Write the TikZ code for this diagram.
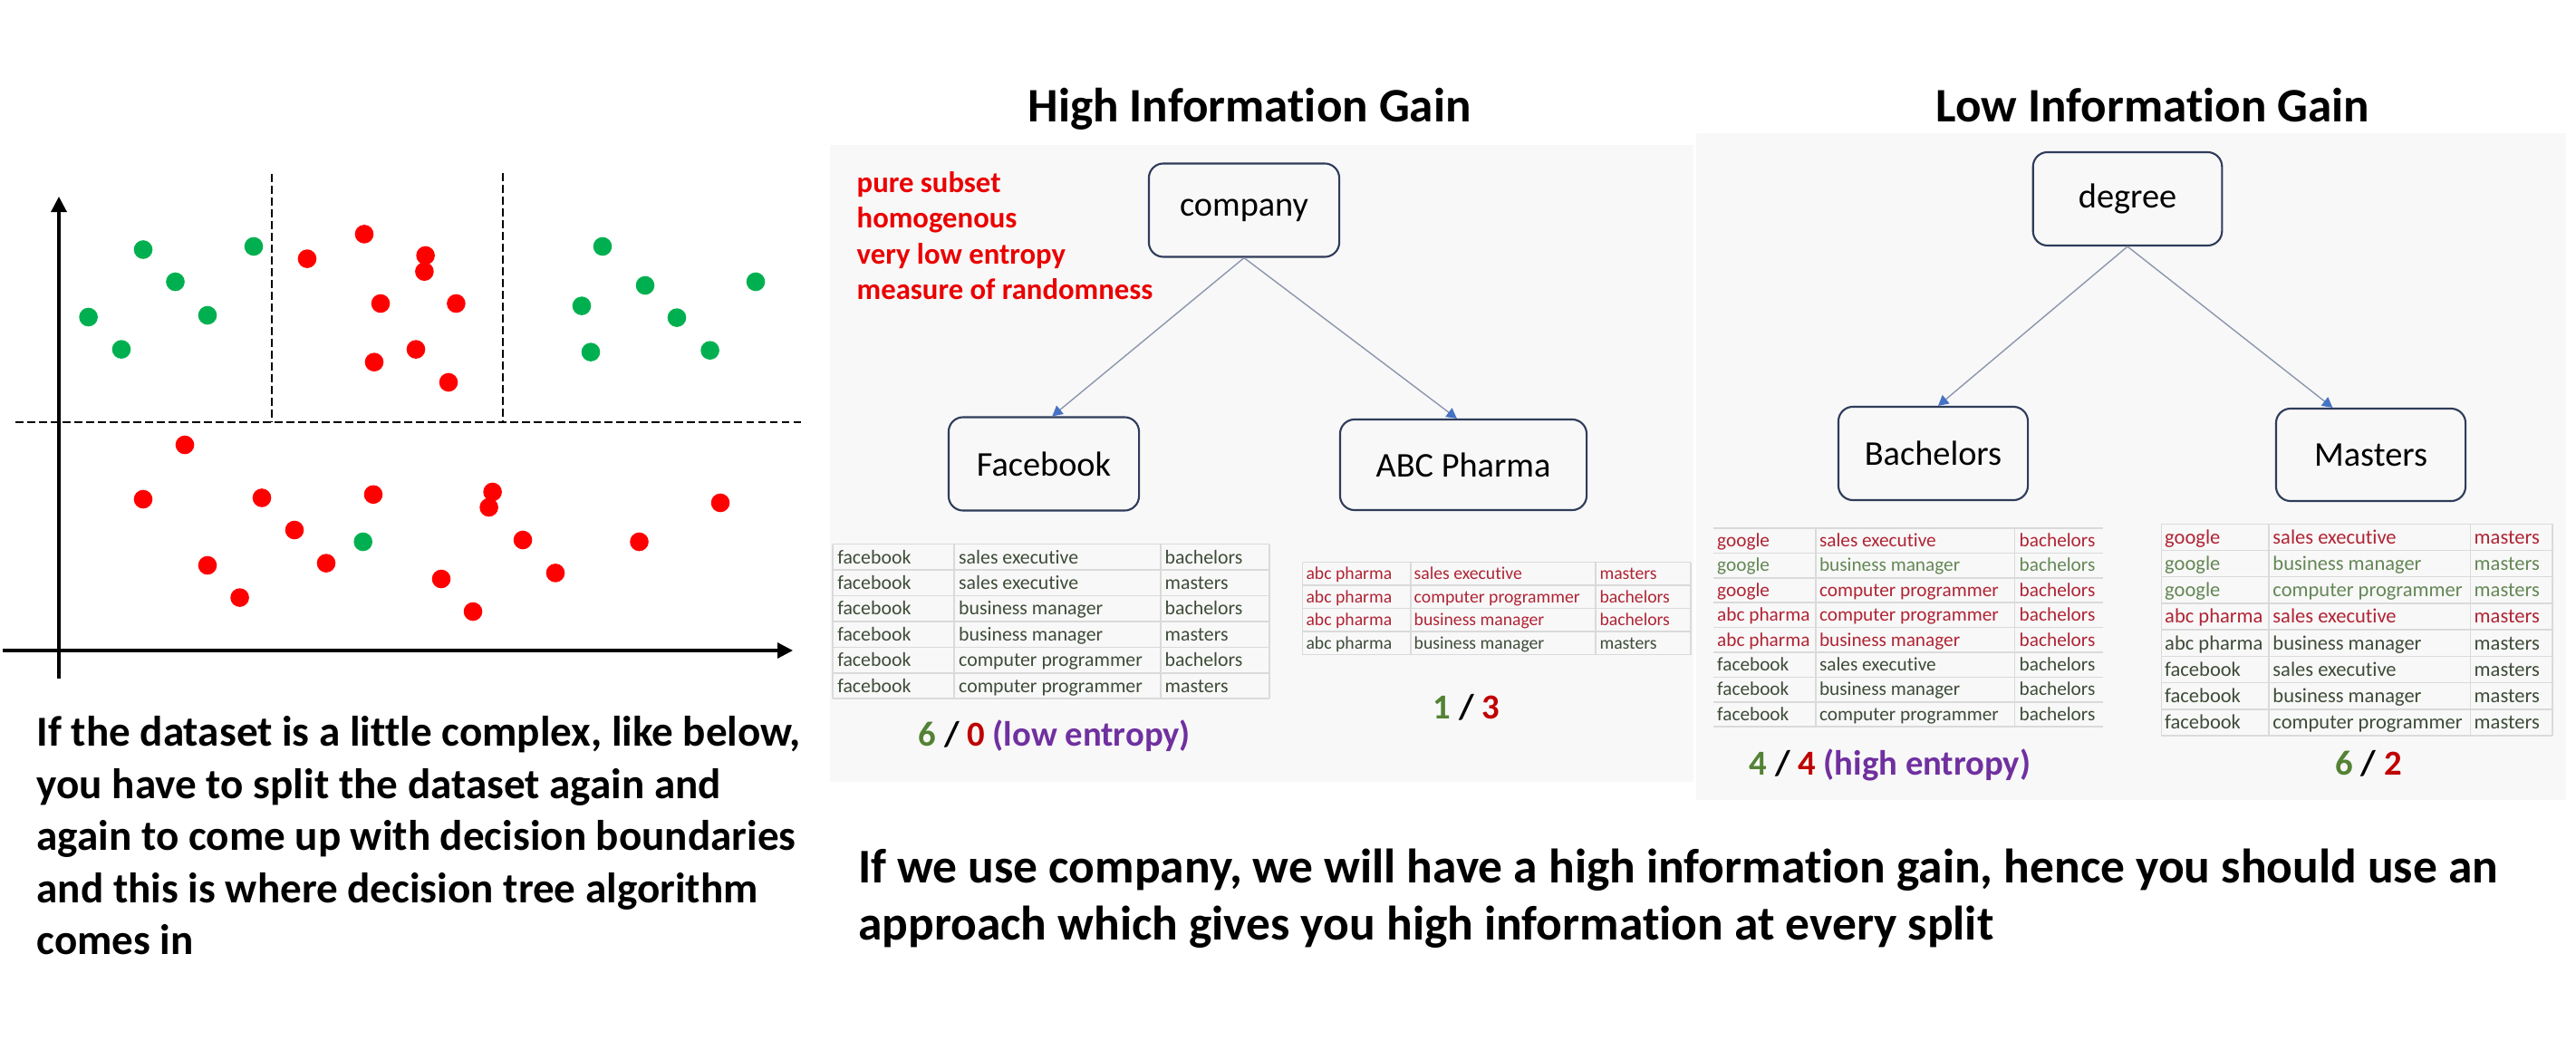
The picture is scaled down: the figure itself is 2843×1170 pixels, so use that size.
\documentclass[tikz,border=0pt]{standalone}
\usepackage{fontspec}
\setmainfont{Carlito}[Ligatures=NoCommon]
\usetikzlibrary{arrows.meta}

\definecolor{dotgreen}{RGB}{0,176,80}
\definecolor{dotred}{RGB}{255,0,0}
\definecolor{notered}{RGB}{235,0,0}
\definecolor{panel}{RGB}{248,248,248}
\definecolor{boxline}{RGB}{47,60,90}
\definecolor{edgeline}{RGB}{140,150,175}
\definecolor{tipblue}{RGB}{68,114,196}
\definecolor{gridline}{RGB}{218,218,218}
\definecolor{cellred}{RGB}{176,36,52}
\definecolor{cellgreen}{RGB}{100,135,85}
\definecolor{celldark}{RGB}{62,76,56}
\definecolor{cntgreen}{RGB}{84,130,53}
\definecolor{cntred}{RGB}{192,0,0}
\definecolor{cntpurple}{RGB}{112,48,160}

\begin{document}
\begin{tikzpicture}[x=0.01cm, y=-0.01cm,
    treebox/.style={draw=boxline, line width=0.6pt, rounded corners=0.16cm, minimum width=2.1cm, minimum height=1.03cm, font=\fontsize{10.9}{13}\selectfont},
    split/.style={draw=edgeline, line width=0.4pt, -{Triangle[length=3.2pt,width=3.4pt,color=tipblue]}},
    axis/.style={line width=0.9pt, -{Triangle[length=0.17cm,width=0.17cm]}},
    boundary/.style={line width=0.7pt, dash pattern=on 0.085cm off 0.045cm},
    grid/.style={draw=gridline, line width=0.45pt},
    cell/.style={anchor=base west, inner sep=0pt},
    count/.style={anchor=base west, inner sep=0pt, font=\bfseries\fontsize{11}{13}\selectfont},
    title/.style={anchor=base, inner sep=0pt, font=\bfseries\fontsize{15.1}{18}\selectfont}]

  \useasboundingbox (0,0) rectangle (2843,1170);
  \fill[white] (0,0) rectangle (2843,1170);

  % scatter plot with split lines
  \draw[axis] (65,749) -- (65,217);
  \draw[axis] (3,718) -- (875,718);
  \draw[boundary] (17,466) -- (887,466);
  \draw[boundary] (300,192) -- (300,466);
  \draw[boundary] (555,191) -- (555,466);
  \foreach \px/\py in {158/275.5, 280/272, 193.5/311, 97.6/350, 229/348, 134/385.6,
      665/272, 712/315, 834/311, 642/337.6, 747/350.6, 652/388.6, 783.6/386.7, 400.7/598}
    \fill[dotgreen] (\px,\py) circle[radius=0.103cm];
  \foreach \px/\py in {402/258.4, 339/285.6, 469.6/282, 468.4/299.7, 420/335, 503.4/335,
      459/385.6, 413/399.7, 495/422, 204/491, 158/551, 289/549.5, 412/545.8, 543.6/543,
      539.6/560, 795/555, 325/585, 577/596, 705.5/598, 229/624, 360/621.6, 613/632.4,
      487/639, 264.6/659.6, 522/675}
    \fill[dotred] (\px,\py) circle[radius=0.103cm];

  % panels
  \fill[panel] (916,160) rectangle (1869,863);
  \fill[panel] (1872,147) rectangle (2832,883);

  % high information gain
  \node[title] (hightitle) at (1379,135) {High Information Gain};
  \node[anchor=north west, align=left, inner sep=0pt, text=notered,
    font=\bfseries\fontsize{9.3}{11.15}\selectfont] (notes) at (945,189)
    {pure subset\\homogenous\\very low entropy\\measure of randomness};
  \node[treebox] (company) at (1373,232) {company};
  \node[treebox] (facebook) at (1152,512) {Facebook};
  \node[treebox, minimum width=2.72cm, minimum height=1cm] (abc) at (1615,513) {ABC Pharma};
  \path (company.south) edge[split] (facebook.80)
        (company.south) edge[split] (abc.98);

  % facebook table
  \foreach \i in {0,...,6} \draw[grid] (919,{600.7+28.4*\i}) -- (1401,{600.7+28.4*\i});
  \foreach \gx in {919,1053,1281,1401} \draw[grid] (\gx,600.7) -- (\gx,771.1);
  \foreach \r/\rc/\ca/\cb/\cc in {1/celldark/facebook/sales executive/bachelors,
      2/celldark/facebook/sales executive/masters,
      3/celldark/facebook/business manager/bachelors,
      4/celldark/facebook/business manager/masters,
      5/celldark/facebook/computer programmer/bachelors,
      6/celldark/facebook/computer programmer/masters}
  {
    \node[cell, text=\rc, font=\fontsize{6.2}{7}\selectfont] (fb-\r-a) at (923.6,{600.7+28.4*(\r-0.25)}) {\ca};
    \node[cell, text=\rc, font=\fontsize{6.2}{7}\selectfont] (fb-\r-b) at (1057.5,{600.7+28.4*(\r-0.25)}) {\cb};
    \node[cell, text=\rc, font=\fontsize{6.2}{7}\selectfont] (fb-\r-c) at (1285,{600.7+28.4*(\r-0.25)}) {\cc};
  }

  % abc pharma table
  \foreach \i in {0,...,4} \draw[grid] (1437.6,{620.7+25.5*\i}) -- (1866,{620.7+25.5*\i});
  \foreach \gx in {1437.6,1557,1761,1866} \draw[grid] (\gx,620.7) -- (\gx,722.7);
  \foreach \r/\rc/\ca/\cb/\cc in {1/cellred/abc pharma/sales executive/masters,
      2/cellred/abc pharma/computer programmer/bachelors,
      3/cellred/abc pharma/business manager/bachelors,
      4/celldark/abc pharma/business manager/masters}
  {
    \node[cell, text=\rc, font=\fontsize{5.6}{6.5}\selectfont] (abc-\r-a) at (1440.8,{620.7+25.5*(\r-0.25)}) {\ca};
    \node[cell, text=\rc, font=\fontsize{5.6}{6.5}\selectfont] (abc-\r-b) at (1560,{620.7+25.5*(\r-0.25)}) {\cb};
    \node[cell, text=\rc, font=\fontsize{5.6}{6.5}\selectfont] (abc-\r-c) at (1764.8,{620.7+25.5*(\r-0.25)}) {\cc};
  }

  \node[count] (cntfb) at (1013,823) {\textcolor{cntgreen}{6} / \textcolor{cntred}{0} \textcolor{cntpurple}{(low entropy)}};
  \node[count] (cntabc) at (1581,793) {\textcolor{cntgreen}{1} / \textcolor{cntred}{3}};

  % low information gain
  \node[title] (lowtitle) at (2376,135) {Low Information Gain};
  \node[treebox, minimum width=2.085cm] (degree) at (2348,219.5) {degree};
  \node[treebox, minimum width=2.09cm] (bachelors) at (2133.5,500.5) {Bachelors};
  \node[treebox, minimum width=2.09cm, minimum height=1.02cm] (masters) at (2616.5,502) {Masters};
  \path (degree.south) edge[split] (bachelors.84)
        (degree.south) edge[split] (masters.129);

  % bachelors table
  \foreach \i in {0,...,8} \draw[grid] (1891,{583+27.4*\i}) -- (2321,{583+27.4*\i});
  \foreach \gx in {2004,2223.6} \draw[grid] (\gx,583) -- (\gx,802.2);
  \foreach \r/\rc/\ca/\cb/\cc in {1/cellred/google/sales executive/bachelors,
      2/cellgreen/google/business manager/bachelors,
      3/cellred/google/computer programmer/bachelors,
      4/cellred/abc pharma/computer programmer/bachelors,
      5/cellred/abc pharma/business manager/bachelors,
      6/celldark/facebook/sales executive/bachelors,
      7/celldark/facebook/business manager/bachelors,
      8/celldark/facebook/computer programmer/bachelors}
  {
    \node[cell, text=\rc, font=\fontsize{6.05}{7}\selectfont] (ba-\r-a) at (1894.5,{583+27.4*(\r-0.25)}) {\ca};
    \node[cell, text=\rc, font=\fontsize{6.05}{7}\selectfont] (ba-\r-b) at (2007.3,{583+27.4*(\r-0.25)}) {\cb};
    \node[cell, text=\rc, font=\fontsize{6.05}{7}\selectfont] (ba-\r-c) at (2228,{583+27.4*(\r-0.25)}) {\cc};
  }

  % masters table
  \foreach \i in {0,...,8} \draw[grid] (2385.4,{578.3+29.2*\i}) -- (2817,{578.3+29.2*\i});
  \foreach \gx in {2385.4,2504,2726.5,2817} \draw[grid] (\gx,578.3) -- (\gx,811.9);
  \foreach \r/\rc/\ca/\cb/\cc in {1/cellred/google/sales executive/masters,
      2/cellgreen/google/business manager/masters,
      3/cellgreen/google/computer programmer/masters,
      4/cellred/abc pharma/sales executive/masters,
      5/celldark/abc pharma/business manager/masters,
      6/celldark/facebook/sales executive/masters,
      7/celldark/facebook/business manager/masters,
      8/celldark/facebook/computer programmer/masters}
  {
    \node[cell, text=\rc, font=\fontsize{6.4}{7.5}\selectfont] (ma-\r-a) at (2388.5,{578.3+29.2*(\r-0.25)}) {\ca};
    \node[cell, text=\rc, font=\fontsize{6.4}{7.5}\selectfont] (ma-\r-b) at (2507.7,{578.3+29.2*(\r-0.25)}) {\cb};
    \node[cell, text=\rc, font=\fontsize{6.4}{7.5}\selectfont] (ma-\r-c) at (2730,{578.3+29.2*(\r-0.25)}) {\cc};
  }

  \node[count] (cntba) at (1930,855) {\textcolor{cntgreen}{4} / \textcolor{cntred}{4} \textcolor{cntpurple}{(high entropy)}};
  \node[count] (cntma) at (2576.6,855) {\textcolor{cntgreen}{6} / \textcolor{cntred}{2}};

  % explanations
  \node[anchor=north west, align=left, inner sep=0pt,
    font=\bfseries\fontsize{13.4}{16.36}\selectfont] (leftnote) at (40,790)
    {If the dataset is a little complex, like below,\\you have to split the dataset again and\\again to come up with decision boundaries\\and this is where decision tree algorithm\\comes in};
  \node[anchor=north west, align=left, inner sep=0pt,
    font=\bfseries\fontsize{15.2}{18.1}\selectfont] (rightnote) at (946.5,936)
    {If we use company, we will have a high information gain, hence you should use an\\approach which gives you high information at every split};
\end{tikzpicture}
\end{document}
